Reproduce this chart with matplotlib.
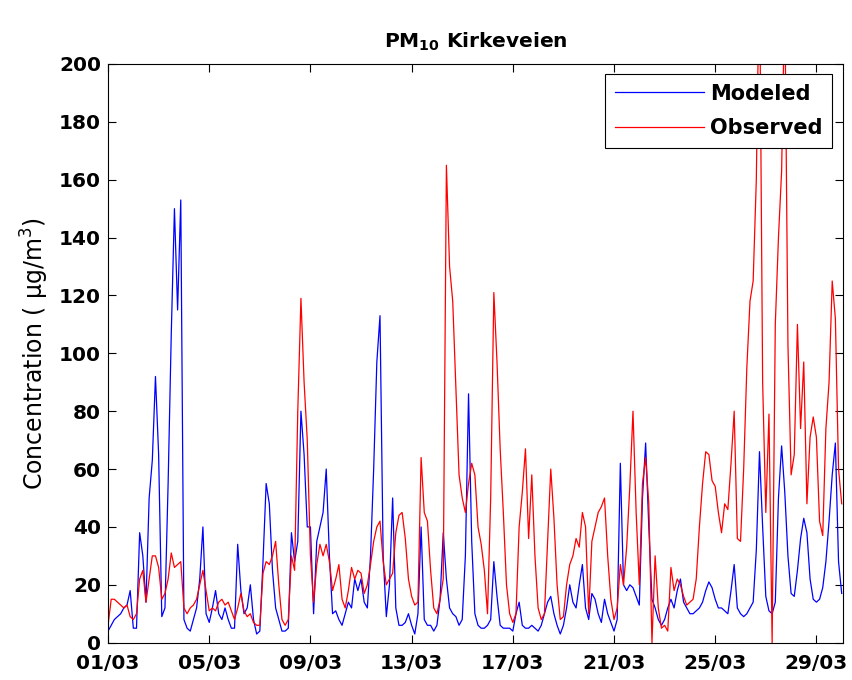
import numpy as np
import matplotlib
matplotlib.use("Agg")
import matplotlib.pyplot as plt

# PM10 at Kirkeveien, March, 3-hourly values (ug/m3)
modeled = [
    4, 6, 8, 9, 10, 12, 13, 18,
    5, 5, 38, 30, 14, 50, 63, 92,
    65, 9, 12, 55, 107, 150, 115, 153,
    8, 5, 4, 8, 12, 22, 40, 10,
    7, 12, 18, 10, 8, 12, 8, 5,
    5, 34, 18, 10, 12, 20, 8, 3,
    4, 28, 55, 48, 25, 12, 8, 4,
    4, 5, 38, 28, 35, 80, 65, 40,
    40, 10, 35, 40, 45, 60, 30, 10,
    11, 8, 6, 10, 14, 12, 22, 18,
    22, 14, 12, 30, 60, 97, 113, 30,
    9, 20, 50, 12, 6, 6, 7, 10,
    6, 3, 10, 40, 8, 6, 6, 4,
    6, 15, 38, 22, 12, 10, 9, 6,
    8, 30, 86, 35, 10, 6, 5, 5,
    6, 8, 28, 16, 6, 5, 5, 5,
    4, 10, 14, 6, 5, 5, 6, 5,
    4, 6, 10, 14, 16, 10, 6, 3,
    6, 12, 20, 14, 12, 20, 27, 12,
    8, 17, 15, 10, 7, 15, 10, 7,
    4, 8, 62, 20, 18, 20, 19, 16,
    13, 50, 69, 40, 15, 12, 8, 6,
    8, 12, 15, 12, 18, 22, 14, 12,
    10, 10, 11, 12, 14, 18, 21, 19,
    15, 12, 12, 11, 10, 18, 27, 12,
    10, 9, 10, 12, 14, 32, 66, 40,
    16, 11, 10, 14, 50, 68, 52, 30,
    17, 16, 25, 36, 43, 38, 22, 15,
    14, 15, 19, 28, 42, 58, 69, 28,
    17,
]

observed = [
    6, 15, 15, 14, 13, 12, 13, 9,
    8, 10, 22, 25, 14, 22, 30, 30,
    26, 15, 17, 22, 31, 26, 27, 28,
    12, 10, 12, 13, 15, 20, 25, 18,
    11, 12, 11, 14, 15, 13, 14, 11,
    8, 12, 17, 11, 9, 10, 7, 6,
    6, 24, 28, 27, 30, 35, 20, 8,
    6, 8, 30, 25, 80, 119, 90, 70,
    30, 14, 27, 34, 30, 34, 28, 18,
    22, 27, 15, 12, 18, 26, 22, 25,
    24, 17, 20, 27, 35, 40, 42, 28,
    20, 22, 24, 38, 44, 45, 36, 22,
    16, 13, 14, 64, 45, 42, 25, 12,
    10, 15, 22, 165, 130, 118, 88, 58,
    50, 45, 55, 62, 58, 40, 34, 25,
    10, 50, 121, 97, 67, 45, 20, 10,
    7, 10, 40, 52, 67, 36, 58, 30,
    12, 8, 10, 35, 60, 43, 20, 8,
    9, 20, 27, 30, 36, 33, 45, 40,
    10, 35, 40, 45, 47, 50, 30, 15,
    8, 12, 27, 20, 33, 54, 80, 45,
    20, 55, 64, 48, 0, 30, 12, 5,
    6, 4, 26, 18, 22, 20, 16, 13,
    14, 15, 22, 40, 55, 66, 65, 56,
    54, 45, 38, 48, 46, 62, 80, 36,
    35, 60, 95, 118, 125, 160, 236, 90,
    45, 79, 0, 110, 140, 163, 225, 103,
    58, 65, 110, 74, 97, 48, 71, 78,
    71, 42, 37, 74, 90, 125, 112, 60,
    48,
]

tick_days = [0, 4, 8, 12, 16, 20, 24, 28]
tick_labels = ['01/03', '05/03', '09/03', '13/03', '17/03', '21/03', '25/03', '29/03']

# time in days since 01/03 00:00, one value every 3 hours
t = np.arange(len(modeled)) * 3 / 24.0

plt.rcParams['font.family'] = 'DejaVu Sans'
plt.rcParams['mathtext.fontset'] = 'dejavusans'

fig = plt.figure(figsize=(8.52, 6.8), dpi=100)
ax = fig.add_axes([0.1268, 0.0549, 0.8623, 0.851])

ax.plot(t, modeled, color='#0000ff', lw=0.9, label='Modeled')
ax.plot(t, observed, color='#ff0000', lw=0.9, label='Observed')

ax.set_xlim(0, 29.04)
ax.set_ylim(0, 200)
ax.set_xticks(tick_days)
ax.set_xticklabels(tick_labels)
ax.set_yticks(range(0, 201, 20))

ax.tick_params(direction='in', top=True, right=True, length=6, width=0.8,
               labelsize=14.5)
ax.tick_params(axis='x', pad=8)
ax.tick_params(axis='y', pad=5)
for lab in ax.get_xticklabels() + ax.get_yticklabels():
    lab.set_fontweight('bold')
for sp in ax.spines.values():
    sp.set_linewidth(0.8)

ax.set_ylabel('Concentration ( µg/m$^3$)', fontsize=17, labelpad=6)
ax.set_title(r'PM$_{\mathbf{10}}$ Kirkeveien', fontsize=14.5, fontweight='bold', pad=12)

leg = ax.legend(loc='upper right', fancybox=False, framealpha=1, edgecolor='black',
                prop={'size': 15, 'weight': 'bold'}, handlelength=4.3,
                handletextpad=0.3, borderaxespad=0.5, labelspacing=0.7,
                borderpad=0.45)
leg.get_frame().set_linewidth(0.8)

fig.savefig('out.png', dpi=100)
